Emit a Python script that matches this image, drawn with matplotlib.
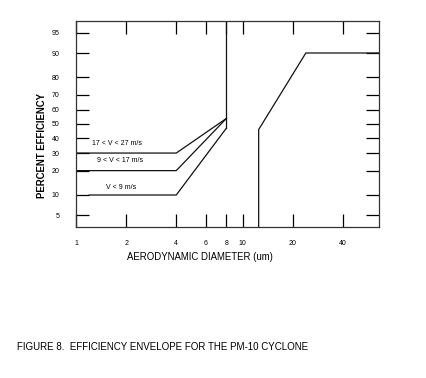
import math
import numpy as np
import matplotlib
matplotlib.use("Agg")
import matplotlib.pyplot as plt
from matplotlib.ticker import FixedLocator, NullLocator, FixedFormatter

plt.rcParams['font.family'] = ['Liberation Sans', 'DejaVu Sans']

# ---- data ----
x_ticks = [1, 2, 4, 6, 8, 10, 20, 40]
y_ticks = [5, 10, 20, 30, 40, 50, 60, 70, 80, 90, 95]

hi_x = [1, 4, 8]
hi_y = [30, 30, 54]
mid_x = [1, 4, 8]
mid_y = [20, 20, 54]
lo_x = [1.2, 4, 8]
lo_y = [10, 10, 47]
cut8_x = [8, 8]
cut8_y = [47, 99.5]
right_x = [12.5, 12.5, 24, 70]
right_y = [0.5, 46, 90, 90]

labels = ["17 < V < 27 m/s", "9 < V < 17 m/s", "V < 9 m/s"]
label_x = [1.77, 1.85, 1.86]
label_y = [36.2, 25.5, 12.7]


# ---- probability (probit) scale helpers ----
def _ppf(p):
    p = np.clip(np.asarray(p, dtype=float), 1e-9, 1 - 1e-9)
    a = [-3.969683028665376e+01, 2.209460984245205e+02, -2.759285104469687e+02,
         1.383577518672690e+02, -3.066479806614716e+01, 2.506628277459239e+00]
    b = [-5.447609879822406e+01, 1.615858368580409e+02, -1.556989798598866e+02,
         6.680131188771972e+01, -1.328068155288572e+01]
    c = [-7.784894002430293e-03, -3.223964580411365e-01, -2.400758277161838e+00,
         -2.549732539343734e+00, 4.374664141464968e+00, 2.938163982698783e+00]
    d = [7.784695709041462e-03, 3.224671290700398e-01, 2.445134137142996e+00,
         3.754408661907416e+00]
    plow = 0.02425
    phigh = 1 - plow
    x = np.empty_like(p)
    lo = p < plow
    hi = p > phigh
    mid = ~(lo | hi)
    q = np.sqrt(-2 * np.log(p[lo]))
    x[lo] = (((((c[0]*q+c[1])*q+c[2])*q+c[3])*q+c[4])*q+c[5]) / \
        ((((d[0]*q+d[1])*q+d[2])*q+d[3])*q+1)
    q = p[mid] - 0.5
    r = q*q
    x[mid] = (((((a[0]*r+a[1])*r+a[2])*r+a[3])*r+a[4])*r+a[5])*q / \
        (((((b[0]*r+b[1])*r+b[2])*r+b[3])*r+b[4])*r+1)
    q = np.sqrt(-2 * np.log(1 - p[hi]))
    x[hi] = -(((((c[0]*q+c[1])*q+c[2])*q+c[3])*q+c[4])*q+c[5]) / \
        ((((d[0]*q+d[1])*q+d[2])*q+d[3])*q+1)
    return x


_erf = np.vectorize(math.erf)


def fwd(pct):
    return _ppf(np.asarray(pct, dtype=float) / 100.0)


def inv(z):
    z = np.asarray(z, dtype=float)
    return 100.0 * 0.5 * (1 + _erf(z / math.sqrt(2)))


# ---- figure ----
fig = plt.figure(figsize=(4.26, 3.78), dpi=100)
ax = fig.add_axes([76/426, 1-227/378, (379-76)/426, (227-21)/378])

ax.set_xscale('log')
ax.set_yscale('function', functions=(fwd, inv))
ax.set_xlim(1, 66)
ax.set_ylim(3.15, 96.85)

lc = '#111111'
lw = 0.9
ax.plot(hi_x, hi_y, color=lc, lw=lw)
ax.plot(mid_x, mid_y, color=lc, lw=lw)
ax.plot(lo_x, lo_y, color=lc, lw=lw)
ax.plot(cut8_x, cut8_y, color=lc, lw=lw)
ax.plot(right_x, right_y, color=lc, lw=lw)

for t, xx, yy in zip(labels, label_x, label_y):
    ax.text(xx, yy, t, ha='center', va='center', fontsize=5)

ax.xaxis.set_major_locator(FixedLocator(x_ticks))
ax.xaxis.set_major_formatter(FixedFormatter([str(v) for v in x_ticks]))
ax.xaxis.set_minor_locator(NullLocator())
ax.yaxis.set_major_locator(FixedLocator(y_ticks))
ax.yaxis.set_major_formatter(FixedFormatter([str(v) for v in y_ticks]))
ax.yaxis.set_minor_locator(NullLocator())

ax.tick_params(axis='both', which='major', direction='in', length=9.5,
               width=0.9, color='black', labelsize=5, pad=9,
               top=True, right=True, labeltop=False, labelright=False)
ax.tick_params(axis='y', pad=12)

for s in ax.spines.values():
    s.set_linewidth(0.9)
    s.set_color('#333333')

fig.text(200/426, 1-257/378, "AERODYNAMIC DIAMETER (um)", ha='center',
         va='center', fontsize=6.9)
fig.text(42/426, 1-145/378, "PERCENT EFFICIENCY", ha='center', va='center',
         rotation=90, fontsize=6.9, fontweight='bold')
fig.text(17/426, 1-347/378,
         "FIGURE 8.  EFFICIENCY ENVELOPE FOR THE PM-10 CYCLONE",
         ha='left', va='center', fontsize=7)

fig.savefig("out.png", dpi=100)
